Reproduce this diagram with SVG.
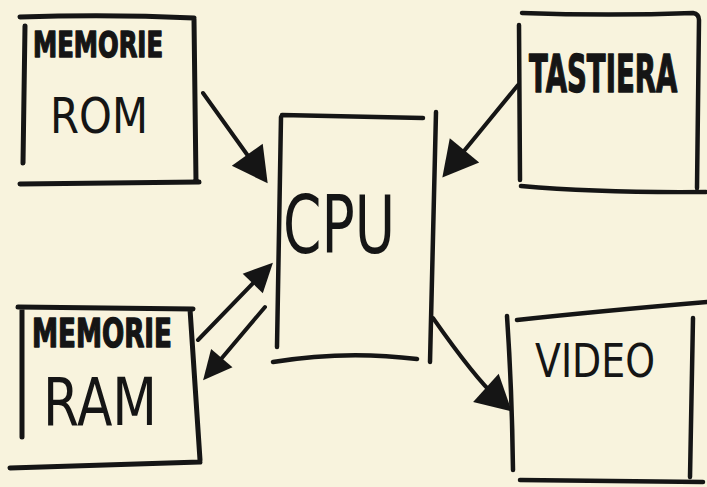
<svg xmlns="http://www.w3.org/2000/svg" width="707" height="487" viewBox="0 0 707 487">
<style>
.box{fill:none;stroke:#151515;stroke-width:5;stroke-linecap:round;stroke-linejoin:round}
.conn{fill:none;stroke:#151515;stroke-width:4;stroke-linecap:round}
.mk{font-family:"DejaVu Sans","Liberation Sans",sans-serif;font-weight:bold;fill:#151515;stroke:#151515;stroke-width:1.5;stroke-linejoin:round}
.hand{font-family:"DejaVu Sans","Liberation Sans",sans-serif;font-weight:normal;fill:#151515}
</style>
<defs>
<marker id="hl" markerUnits="userSpaceOnUse" markerWidth="60" markerHeight="60" viewBox="-30 -30 60 60" refX="0" refY="0" orient="auto">
<path d="M20,0 L-15,-19 L-15,19 Z" fill="#151515"/>
</marker>
<marker id="hs" markerUnits="userSpaceOnUse" markerWidth="60" markerHeight="60" viewBox="-30 -30 60 60" refX="0" refY="0" orient="auto">
<path d="M20,0 L-9,-14 L-9,14 Z" fill="#151515"/>
</marker>
</defs>
<rect width="707" height="487" fill="#f8f3dd"/>

<g id="rom">
<path class="box" d="M20,17 Q110,14 194,18 M25,26 L23,163 M194,19 L196,182 M20,184 L199,182"/>
<text class="mk" x="33" y="57" font-size="35" textLength="130" lengthAdjust="spacingAndGlyphs">MEMORIE</text>
<text class="hand" x="50" y="133" font-size="50" textLength="98" lengthAdjust="spacingAndGlyphs">ROM</text>
</g>

<g id="cpu">
<path class="box" style="stroke-width:4.5" d="M282,115 L423,118 M281,117 L277,347 M436,112 L430,362 M273,362 Q345,350 417,359"/>
<text class="hand" x="283" y="253" font-size="80" textLength="112" lengthAdjust="spacingAndGlyphs">CPU</text>
</g>

<g id="tastiera">
<path class="box" style="stroke-width:4.5" d="M522,13 Q610,16 693,13 Q699,14 699,20 M519,25 L520,180 M699,20 L697,188 M521,186 Q600,193 706,192"/>
<text class="mk" transform="translate(529,92) scale(0.53,1)" x="0" y="0" font-size="52">TASTIERA</text>
</g>

<g id="ram">
<path class="box" d="M18,307 L193,309 M22,310 L22,437 M190,309 L200,460 M10,468 L200,462"/>
<text class="mk" x="32" y="347" font-size="39" textLength="140" lengthAdjust="spacingAndGlyphs">MEMORIE</text>
<text class="hand" x="43" y="425" font-size="66" textLength="114" lengthAdjust="spacingAndGlyphs">RAM</text>
</g>

<g id="video">
<path class="box" style="stroke-width:4.5" d="M517,320 Q600,311 707,302 M507,316 Q512,390 513,470 M693,318 L690,477 M520,480 L703,482"/>
<text class="hand" x="535" y="377" font-size="47" textLength="120" lengthAdjust="spacingAndGlyphs">VIDEO</text>
</g>

<g id="connectors">
<path class="conn" d="M203,93 L256,167" marker-end="url(#hl)"/>
<path class="conn" d="M518,85 L455,162" marker-end="url(#hl)"/>
<path class="conn" d="M198,340 L259,277" marker-end="url(#hs)"/>
<path class="conn" d="M265,307 L216,365" marker-end="url(#hs)"/>
<path class="conn" d="M433,318 Q475,378 497,398" marker-end="url(#hl)"/>
</g>
</svg>
